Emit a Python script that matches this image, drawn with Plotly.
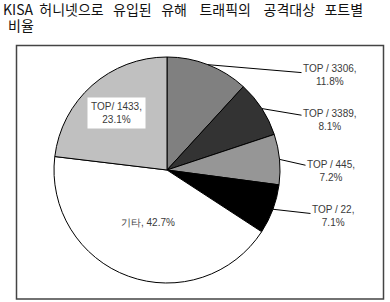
import math
import plotly.graph_objects as go

# ---- data ----
labels = ["TOP / 3306", "TOP / 3389", "TOP / 445", "TOP / 22", "기타", "TOP/ 1433"]
values = [11.8, 8.1, 7.2, 7.1, 42.7, 23.1]
colors = ["#808080", "#333333", "#969696", "#000000", "#ffffff", "#c0c0c0"]
title_words = ["KISA", "허니넷으로", "유입된", "유해", "트래픽의", "공격대상", "포트별"]
title_line2 = "비율"

W, H = 390, 302
cx, cy, r = 167, 170, 113  # pie centre / radius in pixels


def px(x):
    return x / W


def py(y):
    return 1 - y / H


fig = go.Figure(go.Pie(
    labels=labels, values=values, sort=False, direction="clockwise", rotation=0,
    marker=dict(colors=colors, line=dict(color="#000000", width=1)),
    textinfo="none", hoverinfo="label+percent", showlegend=False,
    domain=dict(x=[px(cx - r), px(cx + r)], y=[py(cy + r), py(cy - r)]),
))

# label placement (layout): outside labels get a text centre, inside labels a radial fraction
outside_text = {0: (330, 75), 1: (330, 120), 2: (331, 171), 3: (333, 216)}
inside_frac = {4: 0.49, 5: 0.67}
lab_font = dict(family="Liberation Sans, Arial", size=10, color="#3a3a3a")

total = sum(values)
cum = 0
annotations = []
for i, (lab, v) in enumerate(zip(labels, values)):
    mid = (cum + v / 2) / total * 2 * math.pi
    cum += v
    pct = f"{v / total * 100:.1f}%"
    if i in outside_text:
        hx = cx + r * math.sin(mid)
        hy = cy - r * math.cos(mid)
        tx, ty = outside_text[i]
        annotations.append(dict(
            x=px(hx), y=py(hy), xref="paper", yref="paper",
            text=f"{lab},<br>{pct}", showarrow=True, arrowhead=0, arrowwidth=1,
            arrowcolor="#000000", standoff=0, ax=tx - hx, ay=ty - hy,
            xanchor="center", yanchor="middle", font=lab_font, align="center"))
    else:
        f = inside_frac[i]
        tx = cx + f * r * math.sin(mid)
        ty = cy - f * r * math.cos(mid)
        if i == 5:
            txt = f"{lab},<br>{pct}"
            bg = "#ffffff"
        else:
            txt = f"{lab}, {pct}"
            bg = "rgba(0,0,0,0)"
        annotations.append(dict(
            x=px(tx), y=py(ty), xref="paper", yref="paper", text=txt,
            showarrow=False, bgcolor=bg, borderpad=3,
            xanchor="center", yanchor="middle", font=lab_font, align="center"))

gaps = [1, 2, 2, 3, 3, 2]  # extra spacing between title words
title_line1 = title_words[0]
for w, g in zip(title_words[1:], gaps):
    title_line1 += "\u00a0" * (g + 1) + w

title_font = dict(family="Noto Sans CJK KR", size=14, color="#111111")
annotations.append(dict(x=px(2), y=py(-2), xref="paper", yref="paper", xanchor="left", yanchor="top",
                        text=title_line1, showarrow=False, font=title_font, borderpad=0))
annotations.append(dict(x=px(7), y=py(14), xref="paper", yref="paper", xanchor="left", yanchor="top",
                        text=title_line2, showarrow=False, font=title_font, borderpad=0))

fig.update_layout(
    width=W, height=H, margin=dict(l=0, r=0, t=0, b=0),
    paper_bgcolor="#ffffff", plot_bgcolor="#ffffff",
    annotations=annotations,
    shapes=[dict(type="rect", xref="paper", yref="paper",
                 x0=px(16.5), x1=px(383.5), y0=py(299), y1=py(45.5),
                 line=dict(color="#444444", width=1.5))],
)

fig.write_html("out.html")
